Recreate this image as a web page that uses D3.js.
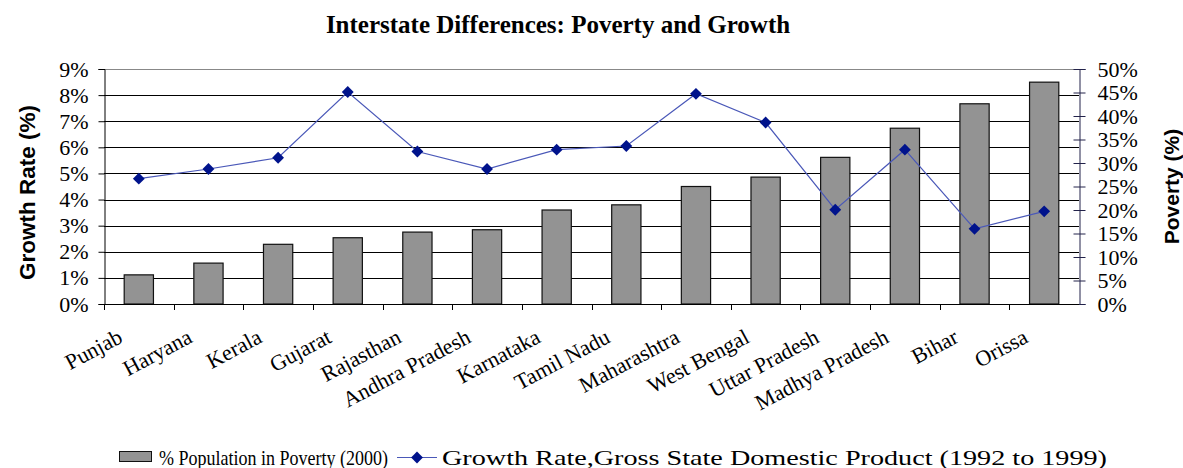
<!DOCTYPE html>
<html>
<head>
<meta charset="utf-8">
<script src="https://cdn.jsdelivr.net/npm/d3@7"></script>
<style>
  body { margin: 0; background: #fff; }
  svg text { fill: #000; }
  .serif { font-family: "Liberation Serif", "Times New Roman", serif; }
  .sans { font-family: "Liberation Sans", Arial, sans-serif; }
</style>
</head>
<body>
<div id="chart"></div>
<script>
// Data
const states = ['Punjab', 'Haryana', 'Kerala', 'Gujarat', 'Rajasthan', 'Andhra Pradesh', 'Karnataka',
    'Tamil Nadu', 'Maharashtra', 'West Bengal', 'Uttar  Pradesh', 'Madhya Pradesh', 'Bihar', 'Orissa'];
// % population in poverty (2000), right axis
const poverty = [6.2, 8.7, 12.7, 14.1, 15.3, 15.8, 20.0, 21.1, 25.0, 27.0, 31.2, 37.4, 42.6, 47.2];
// growth rate of gross state domestic product 1992-1999, left axis
const growth = [4.80, 5.17, 5.60, 8.12, 5.84, 5.17, 5.91, 6.05, 8.05, 6.95, 3.61, 5.91, 2.88, 3.55];
const leftTicks = [0, 1, 2, 3, 4, 5, 6, 7, 8, 9];
const rightTicks = [0, 5, 10, 15, 20, 25, 30, 35, 40, 45, 50];

const W = 1183, H = 468;
const plot = { left: 104, right: 1079, top: 69, bottom: 304 };

const svg = d3.select('#chart')
    .append('svg')
    .attr('width', W)
    .attr('height', H);

// Scales
const x = d3.scaleBand()
    .domain(states)
    .range([plot.left, plot.right])
    .padding(0);
const yLeft = d3.scaleLinear().domain([0, 9]).range([plot.bottom, plot.top]);
const yRight = d3.scaleLinear().domain([0, 50]).range([plot.bottom, plot.top]);
const barW = x.bandwidth() * 0.42;

// Title
svg.append('text')
    .attr('class', 'serif')
    .attr('x', 558)
    .attr('y', 33)
    .attr('text-anchor', 'middle')
    .style('font-size', '25px')
    .style('font-weight', 'bold')
    .text('Interstate Differences: Poverty and Growth');

// Gridlines (left axis ticks)
svg.append('g')
    .selectAll('line')
    .data(leftTicks.filter(d => d > 0))
    .join('line')
    .attr('x1', plot.left)
    .attr('x2', plot.right)
    .attr('y1', d => Math.round(yLeft(d)) + 0.5)
    .attr('y2', d => Math.round(yLeft(d)) + 0.5)
    .attr('stroke', d => d === 9 ? '#888' : '#000')
    .attr('stroke-width', 1);

// Bars
svg.append('g')
    .selectAll('rect')
    .data(states)
    .join('rect')
    .attr('x', d => x(d) + (x.bandwidth() - barW) / 2)
    .attr('width', barW)
    .attr('y', (d, i) => yRight(poverty[i]))
    .attr('height', (d, i) => plot.bottom - yRight(poverty[i]))
    .attr('fill', '#939393')
    .attr('stroke', '#111')
    .attr('stroke-width', 1.2);

// Left axis
const leftAxis = svg.append('g')
    .attr('transform', `translate(${plot.left + 0.5},0)`)
    .call(d3.axisLeft(yLeft).tickValues(leftTicks).tickSize(6).tickPadding(10)
        .tickFormat(d => d + '%'));
leftAxis.select('.domain').attr('stroke', '#000');
leftAxis.selectAll('text')
    .attr('class', 'serif')
    .style('font-size', '22px')
    .attr('font-family', null);

// Right axis (ticks cross the axis)
const rightAxis = svg.append('g')
    .attr('transform', `translate(${plot.right + 0.5},0)`)
    .call(d3.axisRight(yRight).tickValues(rightTicks).tickSize(6).tickPadding(12)
        .tickFormat(d => d + '%'));
rightAxis.select('.domain').attr('stroke', '#22224a');
rightAxis.selectAll('.tick line').attr('x1', -6).attr('stroke', '#22224a');
rightAxis.selectAll('text')
    .attr('class', 'serif')
    .style('font-size', '22px')
    .attr('font-family', null);

// Bottom axis with ticks between categories
const xAxisG = svg.append('g');
xAxisG.append('line')
    .attr('x1', plot.left)
    .attr('x2', plot.right)
    .attr('y1', plot.bottom + 0.5)
    .attr('y2', plot.bottom + 0.5)
    .attr('stroke', '#000');
xAxisG.selectAll('.xtick')
    .data(states)
    .join('line')
    .attr('class', 'xtick')
    .attr('x1', d => Math.round(x(d)) + 0.5)
    .attr('x2', d => Math.round(x(d)) + 0.5)
    .attr('y1', plot.bottom)
    .attr('y2', plot.bottom + 6)
    .attr('stroke', '#000');

// Rotated category labels
xAxisG.selectAll('.xlabel')
    .data(states)
    .join('text')
    .attr('class', 'serif xlabel')
    .attr('text-anchor', 'end')
    .attr('transform', d => `translate(${x(d) + x.bandwidth() / 2 - 22},${plot.bottom + 24}) rotate(-28)`)
    .attr('dy', '0.7em')
    .style('font-size', '22px')
    .text(d => d);

// Growth line
const line = d3.line()
    .x((d, i) => x(states[i]) + x.bandwidth() / 2)
    .y(d => yLeft(d));

svg.append('path')
    .datum(growth)
    .attr('d', line)
    .attr('fill', 'none')
    .attr('stroke', '#4a58b8')
    .attr('stroke-width', 1.2);

const diamond = d3.symbol().type(d3.symbolSquare).size(70);
svg.append('g')
    .selectAll('path')
    .data(growth)
    .join('path')
    .attr('d', diamond)
    .attr('transform', (d, i) => `translate(${x(states[i]) + x.bandwidth() / 2},${yLeft(d)}) rotate(45)`)
    .attr('fill', '#00138c');

// Axis titles
svg.append('text')
    .attr('class', 'sans')
    .attr('transform', `translate(35,${(plot.top + plot.bottom) / 2 + 6}) rotate(-90)`)
    .attr('text-anchor', 'middle')
    .style('font-size', '22.5px')
    .style('font-weight', 'bold')
    .text('Growth Rate (%)');

svg.append('text')
    .attr('class', 'sans')
    .attr('transform', `translate(1179,${(plot.top + plot.bottom) / 2}) rotate(-90)`)
    .attr('text-anchor', 'middle')
    .style('font-size', '21px')
    .style('font-weight', 'bold')
    .text('Poverty (%)');

// Legend
const legend = svg.append('g').attr('transform', 'translate(0,457)');
legend.append('rect')
    .attr('x', 119.5)
    .attr('y', -5.5)
    .attr('width', 32)
    .attr('height', 10)
    .attr('fill', '#939393')
    .attr('stroke', '#111');
legend.append('text')
    .attr('class', 'serif')
    .attr('x', 159)
    .attr('y', 7.5)
    .attr('textLength', 229)
    .attr('lengthAdjust', 'spacingAndGlyphs')
    .style('font-size', '21px')
    .text('% Population in Poverty (2000)');
legend.append('line')
    .attr('x1', 397)
    .attr('x2', 437)
    .attr('y1', 0.5)
    .attr('y2', 0.5)
    .attr('stroke', '#4a58b8')
    .attr('stroke-width', 1.2);
legend.append('path')
    .attr('d', diamond)
    .attr('transform', 'translate(417,0.5) rotate(45)')
    .attr('fill', '#00138c');
legend.append('text')
    .attr('class', 'serif')
    .attr('x', 442)
    .attr('y', 7.5)
    .attr('textLength', 665)
    .attr('lengthAdjust', 'spacingAndGlyphs')
    .style('font-size', '21px')
    .text('Growth Rate,Gross State Domestic Product (1992 to 1999)');
</script>
</body>
</html>
